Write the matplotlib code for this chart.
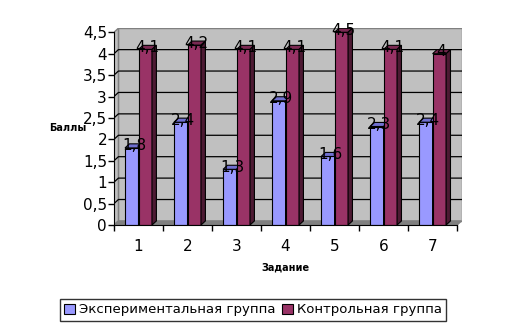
import matplotlib
matplotlib.use('Agg')
import matplotlib.pyplot as plt
from matplotlib.patches import Polygon, Rectangle

# data
tasks = ['1', '2', '3', '4', '5', '6', '7']
exp_group = [1.8, 2.4, 1.3, 2.9, 1.6, 2.3, 2.4]
ctrl_group = [4.1, 4.2, 4.1, 4.1, 4.5, 4.1, 4.0]
y_ticks = [0, 0.5, 1, 1.5, 2, 2.5, 3, 3.5, 4, 4.5]
series_names = ['Экспериментальная группа', 'Контрольная группа']

# 3d look
dx, dy = 0.09, 0.095
w = 0.275
blue, blue_top = '#9999FF', '#6F6FCF'
red, red_top, red_side = '#993366', '#7A2952', '#4D1A33'


def label(v):
    s = ('%g' % v).replace('.', ',')
    return s


def bar3d(ax, x0, h, face, top, side):
    ax.add_patch(Rectangle((x0, 0), w, h, facecolor=face, edgecolor='black', lw=0.8, zorder=3))
    ax.add_patch(Polygon([(x0, h), (x0 + w, h), (x0 + w + dx, h + dy), (x0 + dx, h + dy)],
                         closed=True, facecolor=top, edgecolor='black', lw=0.8, zorder=3))
    ax.add_patch(Polygon([(x0 + w, 0), (x0 + w + dx, dy), (x0 + w + dx, h + dy), (x0 + w, h)],
                         closed=True, facecolor=side, edgecolor='black', lw=0.8, zorder=3))


fig = plt.figure(figsize=(5.07, 3.33), dpi=100)
ax = fig.add_axes([114 / 507, 1 - 225 / 333, 348 / 507, 197 / 333])
n = len(tasks)
ax.set_xlim(0.5, n + 0.5 + 0.1)
ax.set_ylim(0, 4.5 + 0.1)

# walls and floor
ax.add_patch(Polygon([(0.5 + dx, dy), (n + 0.5 + dx, dy), (n + 0.5 + dx, 4.5 + dy), (0.5 + dx, 4.5 + dy)],
                     closed=True, facecolor='#C0C0C0', edgecolor='#808080', lw=1, zorder=1))
ax.add_patch(Polygon([(0.5, 0), (0.5 + dx, dy), (0.5 + dx, 4.5 + dy), (0.5, 4.5)],
                     closed=True, facecolor='#C0C0C0', edgecolor='#808080', lw=1, zorder=1))
ax.add_patch(Polygon([(0.5, 0), (n + 0.5, 0), (n + 0.5 + dx, dy), (0.5 + dx, dy)],
                     closed=True, facecolor='#808080', edgecolor='#808080', lw=1, zorder=1))
for v in y_ticks[1:-1]:
    ax.plot([0.5, 0.5 + dx, n + 0.5 + dx], [v, v + dy, v + dy], color='black', lw=0.9, zorder=2)

for i in range(n):
    c = i + 1
    bar3d(ax, c - w, exp_group[i], blue, blue_top, blue_top)
    bar3d(ax, c, ctrl_group[i], red, red_top, red_side)
    ax.text(c - w / 2 + dx / 2, exp_group[i] + dy / 2, label(exp_group[i]), ha='center', va='center',
            fontsize=11, zorder=5)
    ax.text(c + w / 2 + dx / 2, ctrl_group[i] + dy / 2, label(ctrl_group[i]), ha='center', va='center',
            fontsize=11, zorder=5)

# axes
for s in ['top', 'right']:
    ax.spines[s].set_visible(False)
ax.spines['left'].set_bounds(0, 4.5)
ax.spines['bottom'].set_bounds(0.5, n + 0.5)
ax.spines['left'].set_zorder(4)
ax.spines['bottom'].set_zorder(4)
ax.set_yticks(y_ticks)
ax.set_yticklabels([label(v) for v in y_ticks], fontsize=11)
ax.set_xticks([i + 0.5 for i in range(n + 1)])
ax.set_xticklabels([])
ax.set_xticks(range(1, n + 1), minor=True)
ax.set_xticklabels(tasks, minor=True, fontsize=11)
ax.tick_params(axis='x', which='minor', length=0, pad=10)
ax.tick_params(axis='both', which='major', length=4, width=1, pad=1)

fig.text(68 / 507, 1 - 128 / 333, 'Баллы', fontsize=7, fontweight='bold', ha='center', va='center')
fig.text(285 / 507, 1 - 268 / 333, 'Задание', fontsize=7, fontweight='bold', ha='center', va='center')

handles = [Rectangle((0, 0), 1, 1, facecolor=blue, edgecolor='black', lw=0.8),
           Rectangle((0, 0), 1, 1, facecolor=red, edgecolor='black', lw=0.8)]
leg = fig.legend(handles, series_names, loc='center', bbox_to_anchor=(253 / 507, 1 - 310 / 333), ncol=2,
                 fontsize=9.5, frameon=True, fancybox=False, edgecolor='black', handlelength=0.8,
                 handleheight=0.8, handletextpad=0.3, columnspacing=0.5, borderpad=0.35)
leg.get_frame().set_linewidth(1)

fig.savefig('out.png', dpi=100)
